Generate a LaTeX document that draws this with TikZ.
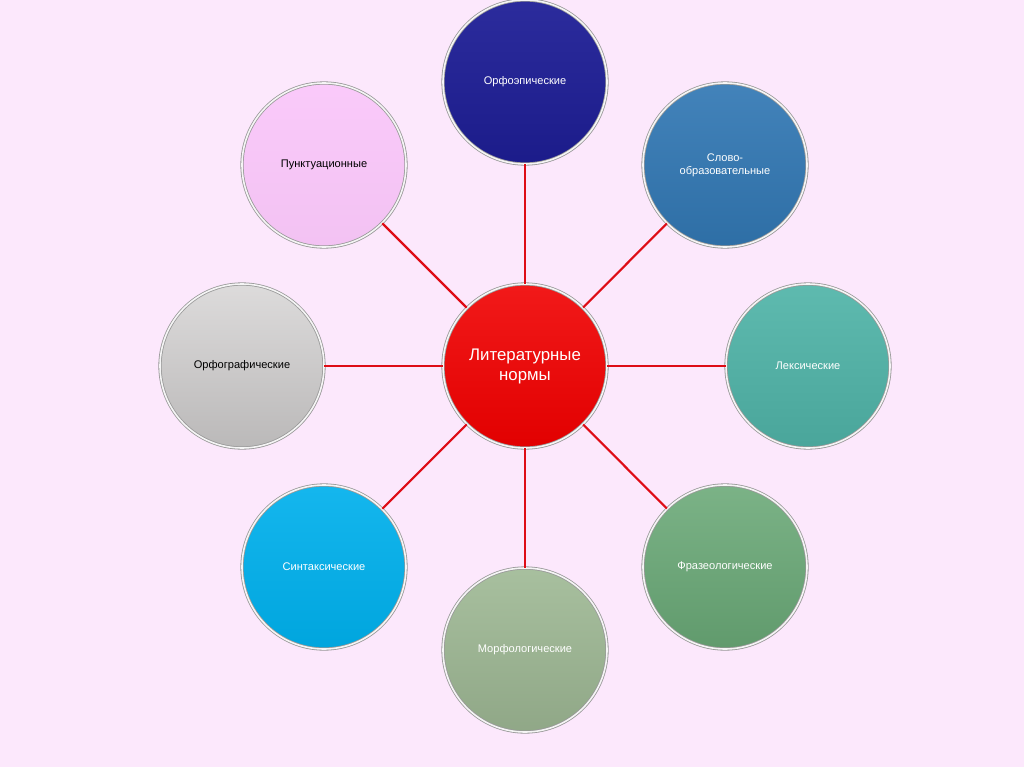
\documentclass[tikz,border=0pt]{standalone}
\usepackage{fontspec}
\setmainfont{Liberation Sans}
\usetikzlibrary{shadows}
\definecolor{bg}{RGB}{252,232,252}
\definecolor{lnk}{RGB}{222,12,22}
\definecolor{cA}{RGB}{30,30,150}
\definecolor{cB}{RGB}{50,120,180}
\definecolor{cC}{RGB}{80,180,168}
\definecolor{cD}{RGB}{105,168,118}
\definecolor{cE}{RGB}{160,186,150}
\definecolor{cF}{RGB}{0,176,236}
\definecolor{cG}{RGB}{212,210,210}
\definecolor{cH}{RGB}{250,200,250}
\definecolor{cR}{RGB}{240,0,0}
\tikzset{
  bub/.style={circle, minimum size=123pt, inner sep=0pt, draw=gray!80, line width=0.6pt,
    double=white!92!gray, double distance=1.2pt,
    align=center, font=\fontsize{8.3}{10}\selectfont,
    drop shadow={shadow xshift=0.8pt, shadow yshift=-0.8pt, opacity=0.25}},
  lt/.style={text=white},
  dk/.style={text=black},
  link/.style={draw=lnk, line width=1.6pt}
}
\begin{document}
\begin{tikzpicture}[x=0.75pt,y=-0.75pt]
\fill[bg] (0,0) rectangle (1024,767);
\useasboundingbox (0,0) rectangle (1024,767);
\node[bub, lt, top color=cR!90!white, bottom color=cR!94!black, font=\fontsize{12.6}{15}\selectfont] (c) at (525,366) {Литературные\\нормы};
\node[bub, lt, top color=cA!94!white, bottom color=cA!92!black] (a) at (525,82) {Орфоэпические};
\node[bub, lt, top color=cB!92!white, bottom color=cB!92!black] (b) at (725,165) {Слово-\\образовательные};
\node[bub, lt, top color=cC!92!white, bottom color=cC!92!black] (l) at (808,366) {Лексические};
\node[bub, lt, top color=cD!88!white, bottom color=cD!92!black] (f) at (725,567) {Фразеологические};
\node[bub, lt, top color=cE!92!white, bottom color=cE!90!black] (m) at (525,650) {Морфологические};
\node[bub, lt, top color=cF!92!white, bottom color=cF!94!black] (s) at (324,567) {Синтаксические};
\node[bub, dk, top color=cG!80!white, bottom color=cG!88!black] (o) at (242,366) {Орфографические};
\node[bub, dk, top color=cH!97!white, bottom color=cH!97!black] (p) at (324,165) {Пунктуационные};
\foreach \n in {a,b,l,f,m,s,o,p}{
  \path[link] (c) -- (\n);
}
\end{tikzpicture}
\end{document}
